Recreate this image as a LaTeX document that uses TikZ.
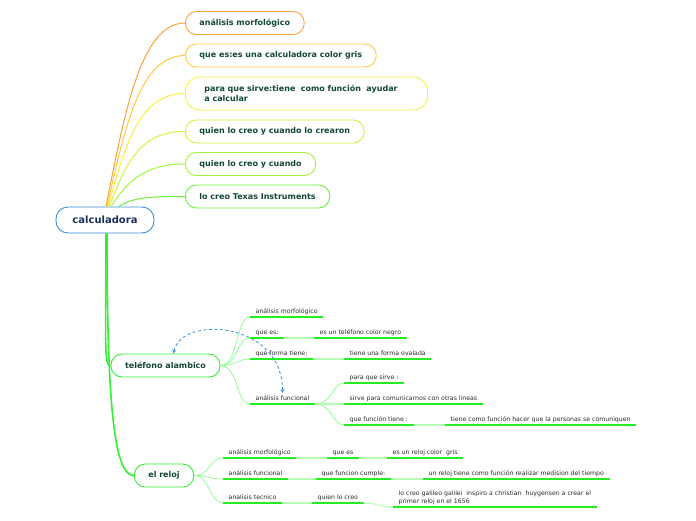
\documentclass[tikz,border=0pt]{standalone}
\usepackage{fontspec}
\setmainfont{DejaVu Sans}
\usepackage{xcolor}
\usetikzlibrary{shapes,arrows,positioning,calc}

\definecolor{ctopic}{HTML}{124838}
\definecolor{cnavy}{HTML}{1B2F5E}
\definecolor{cleaf}{HTML}{2A2A2A}
\definecolor{cblue}{HTML}{3C8FD9}
\definecolor{cgreen}{HTML}{33EE33}
\definecolor{culine}{HTML}{22EE22}
\definecolor{clight}{HTML}{B4FFB4}
\definecolor{cthin}{HTML}{77FF77}
\definecolor{corange}{HTML}{F8A23A}
\definecolor{cgold}{HTML}{FFCB3A}
\definecolor{cyellow}{HTML}{F8F03C}
\definecolor{clime}{HTML}{CCF53C}
\definecolor{cchart}{HTML}{A0F53C}
\definecolor{cgrass}{HTML}{6AF03C}

\begin{document}
\begin{tikzpicture}[
    x=1pt, y=-1pt,
    topic/.style={rectangle, draw, rounded corners=11pt, fill=white, line width=0.9pt, minimum height=23pt, inner xsep=14pt, align=left, text=ctopic, font=\fontsize{8}{9.5}\selectfont\bfseries, anchor=west},
    leaf/.style={rectangle, inner xsep=5.5pt, inner ysep=2pt, text height=5pt, text depth=1.5pt, anchor=south west, align=left, text=cleaf, font=\fontsize{6.2}{8}\selectfont},
    uline/.style={culine, line width=1.6pt},
    joint/.style={clight, line width=1.6pt},
    twig/.style={cthin, line width=0.6pt},
    branch/.style={line width=1pt},
    trunk/.style={cgreen, line width=1.6pt},
    link/.style={cblue, line width=0.8pt, dash pattern=on 3pt off 2.5pt, <->, >=stealth}
]

\useasboundingbox (0,0) rectangle (696,520);

% Centre
\node[topic, draw=cblue, text=cnavy, anchor=center, minimum width=98pt, minimum height=26pt, inner xsep=15pt, rounded corners=12pt, font=\fontsize{10}{12}\selectfont\bfseries] (calc) at (105,220) {calculadora};

% Upper topics
\node[topic, draw=corange] (morf) at (185,23) {análisis morfológico};
\node[topic, draw=cgold] (ques) at (185,55.5) {que es:es una calculadora color gris};
\node[topic, draw=cyellow, minimum height=33pt, inner xsep=19pt, text width=204pt, rounded corners=14pt] (sirve) at (185,93.5) {para que sirve:tiene\ \ como función\ \ ayudar\\a calcular};
\node[topic, draw=clime] (quien) at (185,131.5) {quien lo creo y cuando lo crearon};
\node[topic, draw=cchart] (cuando) at (185,164) {quien lo creo y cuando};
\node[topic, draw=cgrass] (texas) at (185,196.5) {lo creo Texas Instruments};

\draw[branch, corange] ([xshift=1pt]calc.north) .. controls +(18,-90) and +(-45,0) .. (morf.west);
\draw[branch, cgold] ([xshift=2pt]calc.north) .. controls +(18,-80) and +(-45,0) .. (ques.west);
\draw[branch, cyellow] ([xshift=3pt]calc.north) .. controls +(18,-65) and +(-45,0) .. (sirve.west);
\draw[branch, clime] ([xshift=4pt]calc.north) .. controls +(18,-45) and +(-45,0) .. (quien.west);
\draw[branch, cchart] ([xshift=6pt]calc.north) .. controls +(16,-25) and +(-40,0) .. (cuando.west);
\draw[branch, cgrass] ([xshift=14pt]calc.north) .. controls +(14,-10) and +(-30,0) .. (texas.west);

% Lower topics
\node[topic, draw=cgreen, anchor=center] (tel) at (165.5,365.5) {teléfono alambico};
\node[topic, draw=cgreen, anchor=center] (reloj) at (164,475.5) {el reloj};

\draw[trunk] ([xshift=1pt]calc.south) .. controls +(0,110) and +(-7,0) .. (tel.west);
\draw[trunk] ([xshift=2pt]calc.south) .. controls +(0,170) and +(-20,0) .. (reloj.west);

% telefono leaves
\node[leaf] (tmorf) at (250,317) {análisis morfológico};
\node[leaf] (tques) at (250,338) {que es:};
\node[leaf] (tcolor) at (314,338) {es un teléfono color negro};
\node[leaf] (tforma) at (250,359) {que forma tiene:};
\node[leaf] (toval) at (344,359) {tiene una forma ovalada};
\node[leaf] (tfunc) at (250,404) {análisis funcional};
\node[leaf] (tpara) at (344,383) {para que sirve :};
\node[leaf] (tsirve) at (344,404) {sirve para comunicarnos con otras lineas};
\node[leaf] (tque) at (344,425) {que función tiene :};
\node[leaf] (tcom) at (445,425) {tiene como función hacer que la personas se comuniquen};

% reloj leaves
\node[leaf] (rmorf) at (223,458) {análisis morfológico};
\node[leaf] (rques) at (327,458) {que es};
\node[leaf] (rgris) at (387,458) {es un reloj color\ \ gris};
\node[leaf] (rfunc) at (223,479) {análisis funcional};
\node[leaf] (rcumple) at (316,479) {que funcion cumple:};
\node[leaf] (rtiempo) at (423,479) {un reloj tiene como función realizar medision del tiempo};
\node[leaf] (rtec) at (223,503) {analisis tecnico};
\node[leaf] (rquien) at (312,503) {quien lo creo};
\node[leaf, text height={}, text depth={}] (rgal) at (393,507) {lo creo galileo galilei\ \ inspiro a christian\ \ huygensen a crear el\\primer reloj en el 1656};

\foreach \n in {tmorf,tques,tcolor,tforma,toval,tfunc,tpara,tsirve,tque,tcom,rmorf,rques,rgris,rfunc,rcumple,rtiempo,rtec,rquien,rgal}
    \draw[uline] (\n.south west) -- (\n.south east);

% twigs
\foreach \n in {tmorf,tques,tforma,tfunc}
    \draw[twig] (tel.east) .. controls +(18,0) and +(-14,0) .. (\n.south west);
\foreach \n in {tpara,tque}
    \draw[twig] (tfunc.south east) .. controls +(18,0) and +(-12,0) .. (\n.south west);
\foreach \n in {rmorf,rfunc,rtec}
    \draw[twig] (reloj.east) .. controls +(16,0) and +(-14,0) .. (\n.south west);

% joints
\draw[joint] (tques.south east) -- (tcolor.south west);
\draw[joint] (tforma.south east) -- (toval.south west);
\draw[joint] (tfunc.south east) -- (tsirve.south west);
\draw[joint] (tque.south east) -- (tcom.south west);
\draw[joint] (rmorf.south east) -- (rques.south west);
\draw[joint] (rques.south east) -- (rgris.south west);
\draw[joint] (rfunc.south east) -- (rcumple.south west);
\draw[joint] (rcumple.south east) -- (rtiempo.south west);
\draw[joint] (rtec.south east) -- (rquien.south west);
\draw[joint, line width=1pt] (rquien.south east) .. controls +(15,0) and +(-15,0) .. (rgal.south west);

% relation
\draw[link] ([xshift=8pt]tel.north) .. controls +(7,-38) and +(0,-73) .. (tfunc.north);

\end{tikzpicture}
\end{document}
